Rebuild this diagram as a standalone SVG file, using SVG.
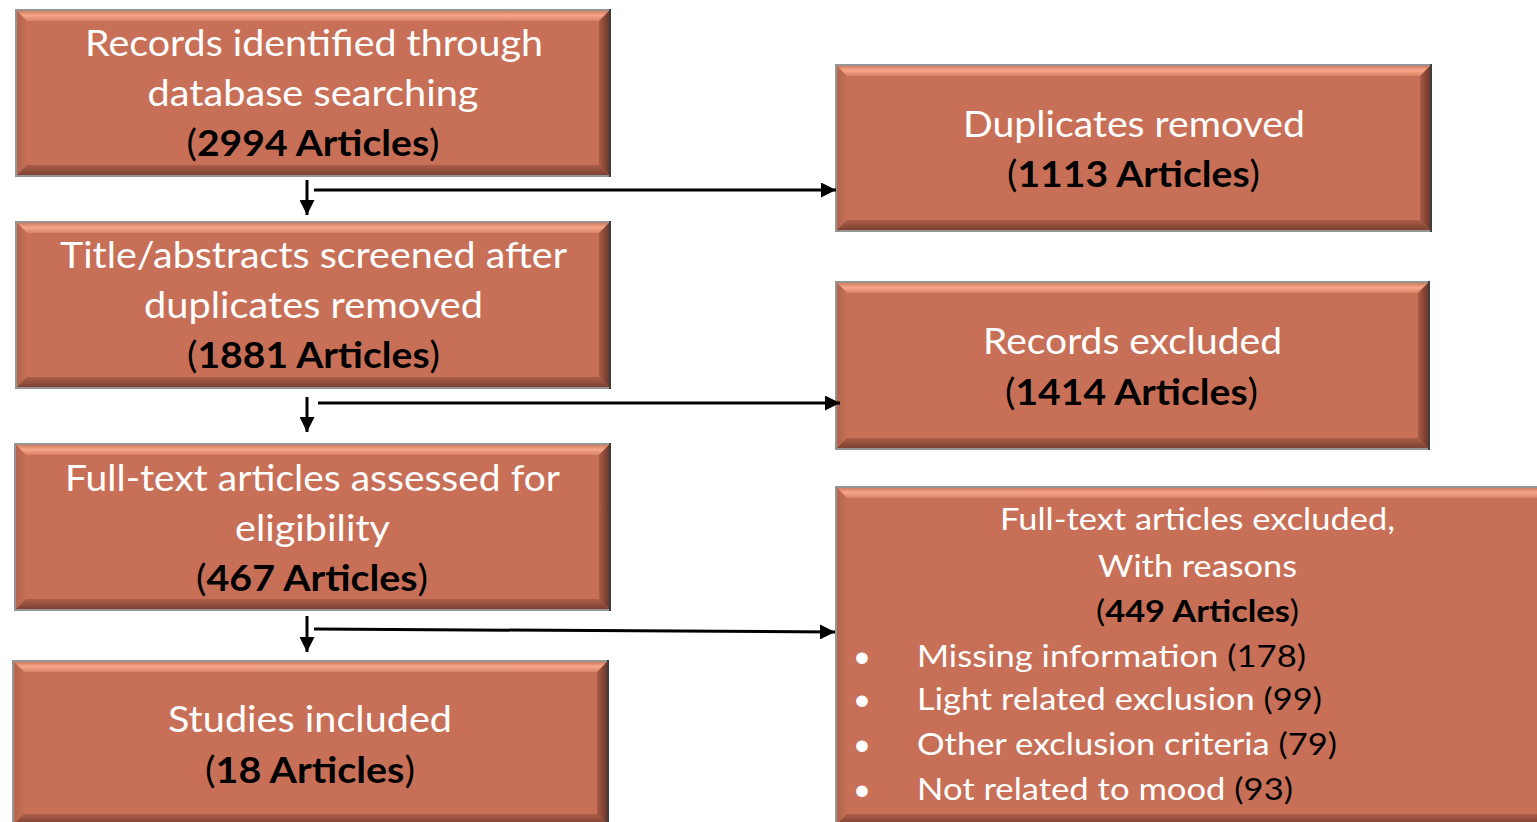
<svg xmlns="http://www.w3.org/2000/svg" width="1537" height="822" viewBox="0 0 1537 822">
<defs>
<linearGradient id="gt" x1="0" y1="0" x2="0" y2="1">
<stop offset="0" stop-color="#D47C60"/><stop offset="0.45" stop-color="#F6A689"/><stop offset="1" stop-color="#D98265"/>
</linearGradient>
<linearGradient id="gl" x1="0" y1="0" x2="1" y2="0">
<stop offset="0" stop-color="#B4634D"/><stop offset="1" stop-color="#C66F56"/>
</linearGradient>
<linearGradient id="gr" x1="0" y1="0" x2="1" y2="0">
<stop offset="0" stop-color="#A95B46"/><stop offset="1" stop-color="#6C3829"/>
</linearGradient>
<linearGradient id="gb" x1="0" y1="0" x2="0" y2="1">
<stop offset="0" stop-color="#AC5D48"/><stop offset="1" stop-color="#7C4232"/>
</linearGradient>
<marker id="ah" markerUnits="userSpaceOnUse" markerWidth="15" markerHeight="15" refX="15" refY="7.5" orient="auto">
<path d="M0,0 L15,7.5 L0,15 z" fill="#000"/>
</marker>
<style>
.rim{fill:#959595}
.rimr{fill:#3E3E3E}
.face{fill:#C87057}
.bt{fill:url(#gt)}
.bl{fill:url(#gl)}
.br{fill:url(#gr)}
.bb{fill:url(#gb)}
text{font-family:Lato,"Open Sans","Liberation Sans",sans-serif;fill:#FFFFFF}
.t1{font-size:36px}
.t2{font-size:31px}
.k{fill:#000000}
.kb{fill:#000000;font-weight:bold}
.c{text-anchor:middle}
.conn line{stroke:#000;stroke-width:3;fill:none;marker-end:url(#ah)}
</style>
</defs>
<rect width="1537" height="822" fill="#FFFFFF"/>

<g id="n1">
<rect class="rim" x="15" y="9" width="596" height="168"/>
<rect class="rimr" x="609" y="9" width="2" height="168"/>
<rect class="face" x="17" y="11" width="592" height="164"/>
<polygon class="bt" points="17,11 609,11 599,21 27,21"/>
<polygon class="bl" points="17,11 27,21 27,165 17,175"/>
<polygon class="br" points="609,11 609,175 599,165 599,21"/>
<polygon class="bb" points="17,175 609,175 599,165 27,165"/>
<text class="t1 c" x="314" y="56" textLength="458" lengthAdjust="spacingAndGlyphs">Records identified through</text>
<text class="t1 c" x="313" y="106" textLength="331" lengthAdjust="spacingAndGlyphs">database searching</text>
<text class="t1 c" x="313" y="156" textLength="253" lengthAdjust="spacingAndGlyphs"><tspan class="k">(</tspan><tspan class="kb">2994 Articles</tspan><tspan class="k">)</tspan></text>
</g>

<g id="n2">
<rect class="rim" x="15" y="221" width="596" height="168"/>
<rect class="rimr" x="609" y="221" width="2" height="168"/>
<rect class="face" x="17" y="223" width="592" height="164"/>
<polygon class="bt" points="17,223 609,223 599,233 27,233"/>
<polygon class="bl" points="17,223 27,233 27,377 17,387"/>
<polygon class="br" points="609,223 609,387 599,377 599,233"/>
<polygon class="bb" points="17,387 609,387 599,377 27,377"/>
<text class="t1 c" x="313.5" y="268" textLength="507" lengthAdjust="spacingAndGlyphs">Title/abstracts screened after</text>
<text class="t1 c" x="313.5" y="318" textLength="339" lengthAdjust="spacingAndGlyphs">duplicates removed</text>
<text class="t1 c" x="313.5" y="368" textLength="253" lengthAdjust="spacingAndGlyphs"><tspan class="k">(</tspan><tspan class="kb">1881 Articles</tspan><tspan class="k">)</tspan></text>
</g>

<g id="n3">
<rect class="rim" x="14" y="443" width="597" height="168"/>
<rect class="rimr" x="609" y="443" width="2" height="168"/>
<rect class="face" x="16" y="445" width="593" height="164"/>
<polygon class="bt" points="16,445 609,445 599,455 26,455"/>
<polygon class="bl" points="16,445 26,455 26,599 16,609"/>
<polygon class="br" points="609,445 609,609 599,599 599,455"/>
<polygon class="bb" points="16,609 609,609 599,599 26,599"/>
<text class="t1 c" x="312.5" y="491" textLength="495" lengthAdjust="spacingAndGlyphs">Full-text articles assessed for</text>
<text class="t1 c" x="312.5" y="541" textLength="155" lengthAdjust="spacingAndGlyphs">eligibility</text>
<text class="t1 c" x="312" y="591" textLength="232" lengthAdjust="spacingAndGlyphs"><tspan class="k">(</tspan><tspan class="kb">467 Articles</tspan><tspan class="k">)</tspan></text>
</g>

<g id="n4">
<rect class="rim" x="12" y="660" width="597" height="166"/>
<rect class="rimr" x="607" y="660" width="2" height="166"/>
<rect class="face" x="14" y="662" width="593" height="162"/>
<polygon class="bt" points="14,662 607,662 597,672 24,672"/>
<polygon class="bl" points="14,662 24,672 24,814 14,824"/>
<polygon class="br" points="607,662 607,824 597,814 597,672"/>
<polygon class="bb" points="14,824 607,824 597,814 24,814"/>
<text class="t1 c" x="310" y="732" textLength="284" lengthAdjust="spacingAndGlyphs">Studies included</text>
<text class="t1 c" x="310" y="783" textLength="210" lengthAdjust="spacingAndGlyphs"><tspan class="k">(</tspan><tspan class="kb">18 Articles</tspan><tspan class="k">)</tspan></text>
</g>

<g id="n5">
<rect class="rim" x="835" y="64" width="597" height="168"/>
<rect class="rimr" x="1430" y="64" width="2" height="168"/>
<rect class="face" x="837" y="66" width="593" height="164"/>
<polygon class="bt" points="837,66 1430,66 1420,76 847,76"/>
<polygon class="bl" points="837,66 847,76 847,220 837,230"/>
<polygon class="br" points="1430,66 1430,230 1420,220 1420,76"/>
<polygon class="bb" points="837,230 1430,230 1420,220 847,220"/>
<text class="t1 c" x="1134" y="137" textLength="342" lengthAdjust="spacingAndGlyphs">Duplicates removed</text>
<text class="t1 c" x="1133.5" y="187" textLength="253" lengthAdjust="spacingAndGlyphs"><tspan class="k">(</tspan><tspan class="kb">1113 Articles</tspan><tspan class="k">)</tspan></text>
</g>

<g id="n6">
<rect class="rim" x="835" y="281" width="595" height="169"/>
<rect class="rimr" x="1428" y="281" width="2" height="169"/>
<rect class="face" x="837" y="283" width="591" height="165"/>
<polygon class="bt" points="837,283 1428,283 1418,293 847,293"/>
<polygon class="bl" points="837,283 847,293 847,438 837,448"/>
<polygon class="br" points="1428,283 1428,448 1418,438 1418,293"/>
<polygon class="bb" points="837,448 1428,448 1418,438 847,438"/>
<text class="t1 c" x="1132.5" y="354" textLength="299" lengthAdjust="spacingAndGlyphs">Records excluded</text>
<text class="t1 c" x="1131.5" y="405" textLength="253" lengthAdjust="spacingAndGlyphs"><tspan class="k">(</tspan><tspan class="kb">1414 Articles</tspan><tspan class="k">)</tspan></text>
</g>

<g id="n7">
<rect class="rim" x="835" y="486" width="715" height="340"/>
<rect class="face" x="837" y="488" width="711" height="336"/>
<polygon class="bt" points="837,488 1548,488 1538,498 847,498"/>
<polygon class="bl" points="837,488 847,498 847,814 837,824"/>
<polygon class="bb" points="837,824 1548,824 1538,814 847,814"/>
<text class="t2 c" x="1197.5" y="530" textLength="395" lengthAdjust="spacingAndGlyphs">Full-text articles excluded,</text>
<text class="t2 c" x="1197.5" y="577" textLength="199" lengthAdjust="spacingAndGlyphs">With reasons</text>
<text class="t2 c" x="1197.5" y="622" textLength="203" lengthAdjust="spacingAndGlyphs"><tspan class="k">(</tspan><tspan class="kb">449 Articles</tspan><tspan class="k">)</tspan></text>
<text class="t2 c" x="862" y="667">•</text>
<text class="t2 c" x="862" y="710">•</text>
<text class="t2 c" x="862" y="755">•</text>
<text class="t2 c" x="862" y="800">•</text>
<text class="t2" x="917" y="667" textLength="389" lengthAdjust="spacingAndGlyphs">Missing information <tspan class="k">(178)</tspan></text>
<text class="t2" x="917" y="710" textLength="405" lengthAdjust="spacingAndGlyphs">Light related exclusion <tspan class="k">(99)</tspan></text>
<text class="t2" x="917" y="755" textLength="420" lengthAdjust="spacingAndGlyphs">Other exclusion criteria <tspan class="k">(79)</tspan></text>
<text class="t2" x="917" y="800" textLength="376" lengthAdjust="spacingAndGlyphs">Not related to mood <tspan class="k">(93)</tspan></text>
</g>

<g id="connectors" class="conn">
<line x1="307" y1="180" x2="307" y2="215"/>
<line x1="314" y1="190" x2="836" y2="190"/>
<line x1="307" y1="397" x2="307" y2="432"/>
<line x1="318" y1="403" x2="840" y2="403"/>
<line x1="307" y1="616" x2="307" y2="652"/>
<line x1="314" y1="629" x2="835" y2="632"/>
</g>
</svg>
